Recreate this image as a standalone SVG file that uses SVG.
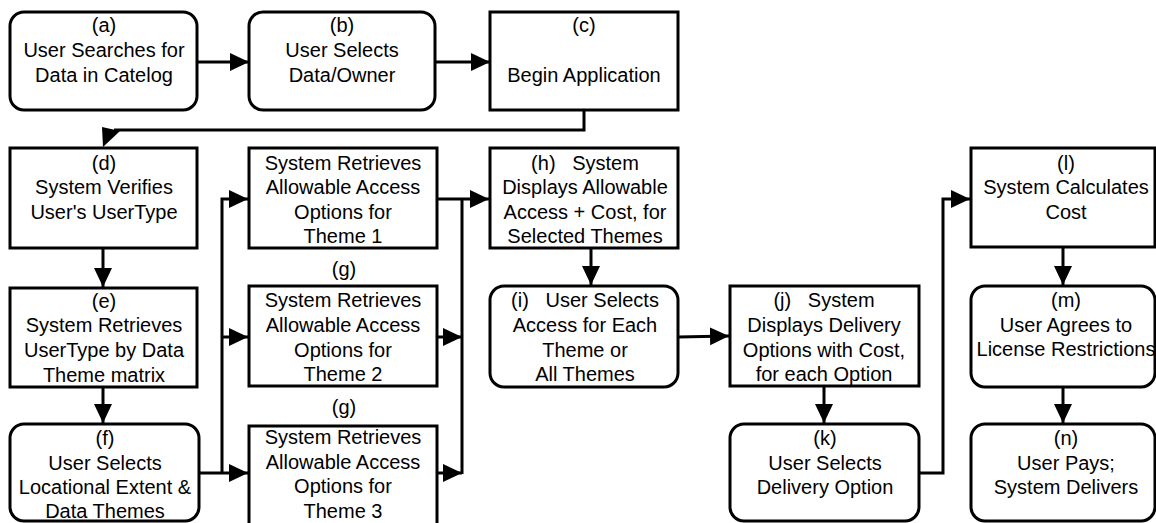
<svg xmlns="http://www.w3.org/2000/svg" width="1156" height="523" viewBox="0 0 1156 523">
<style>
.box{fill:#fff;stroke:#000;stroke-width:3}
.t{font-family:"Liberation Sans",Arial,sans-serif;font-size:20px;fill:#000;text-anchor:middle;white-space:pre}
.c{fill:none;stroke:#000;stroke-width:3}
</style>
<defs>
<marker id="arr" markerUnits="userSpaceOnUse" markerWidth="20" markerHeight="20" refX="19" refY="9" orient="auto">
<path d="M0,0 L19,9 L0,18 z" fill="#000"/>
</marker>
</defs>
<g id="connectors">
<line class="c" x1="197" y1="62" x2="249" y2="62" marker-end="url(#arr)"/>
<line class="c" x1="435" y1="62" x2="490" y2="62" marker-end="url(#arr)"/>
<polyline class="c" points="584,110 584,130 114,130"/>
<polygon points="102,127 120,131 103,147" fill="#000"/>
<line class="c" x1="103" y1="248" x2="103" y2="287" marker-end="url(#arr)"/>
<line class="c" x1="103" y1="387" x2="103" y2="423" marker-end="url(#arr)"/>
<line class="c" x1="199" y1="473" x2="248" y2="473" marker-end="url(#arr)"/>
<polyline class="c" points="222,473 222,199 248,199" marker-end="url(#arr)"/>
<line class="c" x1="222" y1="337" x2="248" y2="337" marker-end="url(#arr)"/>
<line class="c" x1="437" y1="199" x2="489" y2="199" marker-end="url(#arr)"/>
<line class="c" x1="462" y1="199" x2="462" y2="474"/>
<line class="c" x1="437" y1="337" x2="462" y2="337" marker-end="url(#arr)"/>
<line class="c" x1="437" y1="473" x2="462" y2="473" marker-end="url(#arr)"/>
<line class="c" x1="591" y1="248" x2="591" y2="285" marker-end="url(#arr)"/>
<line class="c" x1="678" y1="337" x2="729" y2="336" marker-end="url(#arr)"/>
<line class="c" x1="824" y1="386" x2="824" y2="423" marker-end="url(#arr)"/>
<polyline class="c" points="919,473 943,473 943,199 970,199" marker-end="url(#arr)"/>
<line class="c" x1="1063" y1="247" x2="1063" y2="285" marker-end="url(#arr)"/>
<line class="c" x1="1063" y1="387" x2="1063" y2="423" marker-end="url(#arr)"/>
</g>
<g id="node-a">
<rect class="box" x="10" y="12" width="187" height="98" rx="14"/>
<text class="t"><tspan x="104" y="32">(a)</tspan><tspan x="104" y="57">User Searches for</tspan><tspan x="104" y="82">Data in Catelog</tspan></text>
</g>
<g id="node-b">
<rect class="box" x="249" y="12" width="186" height="98" rx="14"/>
<text class="t"><tspan x="342" y="32">(b)</tspan><tspan x="342" y="57">User Selects</tspan><tspan x="342" y="82">Data/Owner</tspan></text>
</g>
<g id="node-c">
<rect class="box" x="490" y="12" width="188" height="98"/>
<text class="t"><tspan x="584" y="32">(c)</tspan><tspan x="584" y="82">Begin Application</tspan></text>
</g>
<g id="node-d">
<rect class="box" x="10" y="148" width="187" height="100"/>
<text class="t"><tspan x="104" y="170">(d)</tspan><tspan x="104" y="194">System Verifies</tspan><tspan x="104" y="219">User's UserType</tspan></text>
</g>
<g id="node-e">
<rect class="box" x="10" y="288" width="187" height="99"/>
<text class="t"><tspan x="104" y="308">(e)</tspan><tspan x="104" y="332">System Retrieves</tspan><tspan x="104" y="357">UserType by Data</tspan><tspan x="104" y="382">Theme matrix</tspan></text>
</g>
<g id="node-f">
<rect class="box" x="10" y="424" width="189" height="97" rx="14"/>
<text class="t"><tspan x="105" y="445">(f)</tspan><tspan x="105" y="470">User Selects</tspan><tspan x="105" y="494">Locational Extent &amp;</tspan><tspan x="105" y="518">Data Themes</tspan></text>
</g>
<g id="node-g1">
<rect class="box" x="249" y="148" width="188" height="100"/>
<text class="t"><tspan x="343" y="170">System Retrieves</tspan><tspan x="343" y="194">Allowable Access</tspan><tspan x="343" y="219">Options for</tspan><tspan x="343" y="243">Theme 1</tspan></text>
</g>
<g id="node-g2">
<text class="t" x="344" y="276">(g)</text>
<rect class="box" x="249" y="286" width="188" height="100"/>
<text class="t"><tspan x="343" y="307">System Retrieves</tspan><tspan x="343" y="332">Allowable Access</tspan><tspan x="343" y="357">Options for</tspan><tspan x="343" y="381">Theme 2</tspan></text>
</g>
<g id="node-g3">
<text class="t" x="344" y="414">(g)</text>
<rect class="box" x="249" y="426" width="188" height="102"/>
<text class="t"><tspan x="343" y="444">System Retrieves</tspan><tspan x="343" y="469">Allowable Access</tspan><tspan x="343" y="493">Options for</tspan><tspan x="343" y="518">Theme 3</tspan></text>
</g>
<g id="node-h">
<rect class="box" x="490" y="148" width="188" height="100"/>
<text class="t" xml:space="preserve"><tspan x="585" y="170">(h)   System</tspan><tspan x="585" y="194">Displays Allowable</tspan><tspan x="585" y="219">Access + Cost, for</tspan><tspan x="585" y="243">Selected Themes</tspan></text>
</g>
<g id="node-i">
<rect class="box" x="490" y="286" width="188" height="101" rx="14"/>
<text class="t" xml:space="preserve"><tspan x="585" y="307">(i)   User Selects</tspan><tspan x="585" y="332">Access for Each</tspan><tspan x="585" y="357">Theme or</tspan><tspan x="585" y="381">All Themes</tspan></text>
</g>
<g id="node-j">
<rect class="box" x="730" y="286" width="189" height="100"/>
<text class="t" xml:space="preserve"><tspan x="824" y="307">(j)   System</tspan><tspan x="824" y="332">Displays Delivery</tspan><tspan x="824" y="357">Options with Cost,</tspan><tspan x="824" y="381">for each Option</tspan></text>
</g>
<g id="node-k">
<rect class="box" x="730" y="424" width="189" height="97" rx="14"/>
<text class="t"><tspan x="825" y="445">(k)</tspan><tspan x="825" y="470">User Selects</tspan><tspan x="825" y="494">Delivery Option</tspan></text>
</g>
<g id="node-l">
<rect class="box" x="971" y="148" width="184" height="99"/>
<text class="t"><tspan x="1066" y="170">(l)</tspan><tspan x="1066" y="194">System Calculates</tspan><tspan x="1066" y="219">Cost</tspan></text>
</g>
<g id="node-m">
<rect class="box" x="971" y="286" width="184" height="101" rx="14"/>
<text class="t"><tspan x="1066" y="307">(m)</tspan><tspan x="1066" y="332">User Agrees to</tspan><tspan x="1066" y="356">License Restrictions</tspan></text>
</g>
<g id="node-n">
<rect class="box" x="971" y="424" width="184" height="97" rx="14"/>
<text class="t"><tspan x="1066" y="445">(n)</tspan><tspan x="1066" y="470">User Pays;</tspan><tspan x="1066" y="494">System Delivers</tspan></text>
</g>
</svg>
